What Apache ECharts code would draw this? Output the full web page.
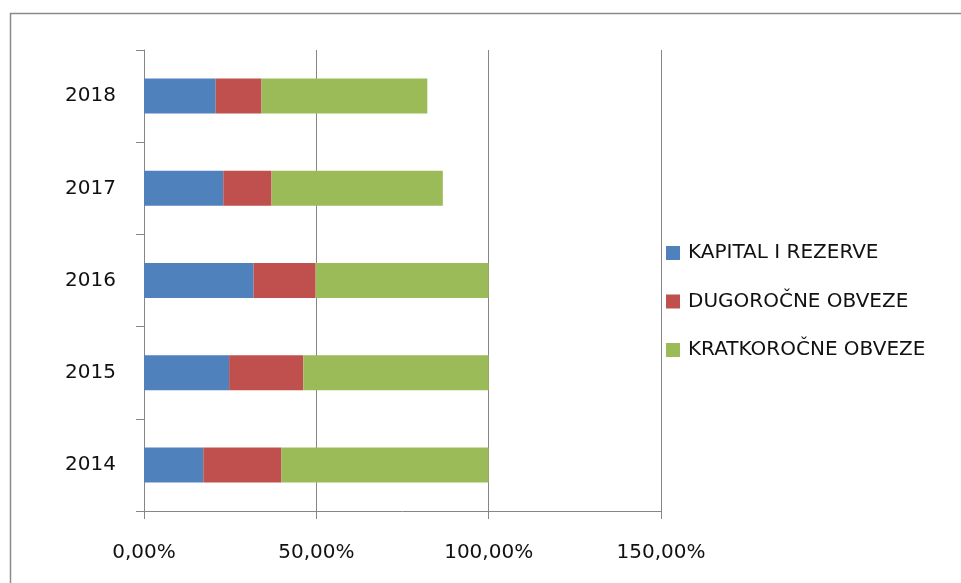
<!DOCTYPE html>
<html>
<head>
<meta charset="utf-8">
<script src="https://cdn.jsdelivr.net/npm/echarts@6/dist/echarts.min.js"></script>
<style>
  html, body { margin: 0; padding: 0; background: #fff; }
  #chart { width: 961px; height: 583px; }
</style>
</head>
<body>
<div id="chart"></div>
<script>
// podaci (udio u %)
const years = ["2014", "2015", "2016", "2017", "2018"];
const kapital = [17.2, 24.7, 31.8, 23.0, 20.8];
const dugorocne = [22.7, 21.5, 18.0, 14.0, 13.3];
const kratkorocne = [60.1, 53.8, 50.2, 49.7, 48.1];
const seriesNames = ["KAPITAL I REZERVE", "DUGOROČNE OBVEZE", "KRATKOROČNE OBVEZE"];
const colors = ["#4f81bd", "#c0504d", "#9bbb59"];

const chart = echarts.init(document.getElementById("chart"));

const fontFamily = "DejaVu Sans";
const gray = "#868686";
const textColor = "#111";

function barSeries(name, data, color) {
  return {
    name: name,
    type: "bar",
    stack: "total",
    barWidth: 35,
    itemStyle: { color: color },
    data: data,
  };
}

const option = {
  animation: false,
  graphic: [
    {
      // okvir grafikona
      type: "rect",
      shape: { x: 10.5, y: 13.5, width: 1000, height: 1000 },
      style: { fill: "none", stroke: "#8a8a8a", lineWidth: 1.5 },
      silent: true,
    },
  ],
  grid: {
    left: 144,
    right: 300,
    top: 50,
    bottom: 72,
  },
  legend: {
    orient: "vertical",
    left: 661,
    top: 238,
    itemWidth: 14,
    itemHeight: 14,
    itemGap: 28.5,
    icon: "rect",
    textStyle: {
      fontFamily: fontFamily,
      fontSize: 20,
      lineHeight: 20,
      color: textColor,
      padding: [0, 0, 0, 3],
    },
    data: seriesNames,
  },
  xAxis: {
    type: "value",
    min: 0,
    max: 150,
    interval: 50,
    axisLine: { show: true, lineStyle: { color: gray, width: 1 } },
    axisTick: { show: true, length: 8, lineStyle: { color: gray } },
    splitLine: { show: true, lineStyle: { color: gray, width: 1, type: "solid" } },
    axisLabel: {
      margin: 32,
      fontFamily: fontFamily,
      fontSize: 20,
      color: textColor,
      formatter: function (v) {
        return v.toFixed(2).replace(".", ",") + "%";
      },
    },
  },
  yAxis: {
    type: "category",
    data: years,
    axisLine: { show: true, lineStyle: { color: gray, width: 1 } },
    axisTick: { show: true, length: 8, lineStyle: { color: gray } },
    axisLabel: {
      margin: 28,
      fontFamily: fontFamily,
      fontSize: 20,
      color: textColor,
    },
  },
  series: [
    barSeries(seriesNames[0], kapital, colors[0]),
    barSeries(seriesNames[1], dugorocne, colors[1]),
    barSeries(seriesNames[2], kratkorocne, colors[2]),
  ],
};

chart.setOption(option);
</script>
</body>
</html>
